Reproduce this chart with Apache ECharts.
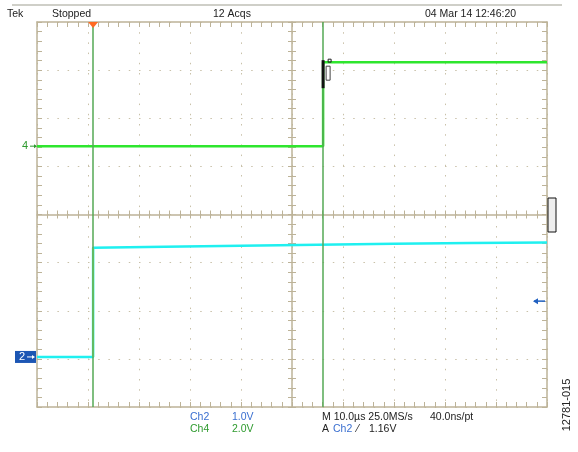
<!DOCTYPE html>
<html>
<head>
<meta charset="utf-8">
<script src="https://cdn.jsdelivr.net/npm/echarts@6.0.0/dist/echarts.min.js"></script>
<style>
html, body { margin: 0; background: #fff; }
#main { width: 578px; height: 452px; }
</style>
</head>
<body>
<div id="main"></div>
<script>
// 时间单位 µs，电压单位 V
const ch4Time = [0, 56.1, 56.1, 100];
const ch4Volt = [0, 0, 3.49, 3.49];
const ch2Time = [0, 11.0, 11.0, 25, 40, 55, 70, 85, 100];
const ch2Volt = [0, 0, 2.27, 2.29, 2.31, 2.33, 2.35, 2.37, 2.38];
const cursorTime = [11.0, 56.1];
const ch2Scale = 1.0;   // V/div
const ch4Scale = 2.0;   // V/div
const ch2Offset = -2.96; // 地线位置 div
const ch4Offset = 1.42;
const triggerLevel = 1.16;
const triggerTime = 11.0;

const tan = '#bdb398';
const dot = '#c9c1a9';

// 电压转为格数
const toDiv = (v, scale, offset) => v / scale + offset;
const ch4Data = ch4Time.map((t, i) => [t, toDiv(ch4Volt[i], ch4Scale, ch4Offset)]);
const ch2Data = ch2Time.map((t, i) => [t, toDiv(ch2Volt[i], ch2Scale, ch2Offset)]);
const ch2Edge = [ch2Data[1], ch2Data[2]];

const mkX = (pos, offset, inside, len, split, line) => ({
    type: 'value', min: 0, max: 100, interval: 10, position: pos, offset: offset,
    axisLine: { show: line, onZero: false, lineStyle: { color: tan, width: 1.5 } },
    axisTick: { show: true, inside: inside, length: len, lineStyle: { color: tan } },
    minorTick: { show: true, splitNumber: 5, length: len, lineStyle: { color: tan } },
    axisLabel: { show: false },
    splitLine: { show: split, lineStyle: { color: dot, width: 1, type: [1.5, 8.7] } }
})
const mkY = (pos, offset, inside, len, split, line) => ({
    type: 'value', min: -4, max: 4, interval: 1, position: pos, offset: offset,
    axisLine: { show: line, onZero: false, lineStyle: { color: tan, width: 1.5 } },
    axisTick: { show: true, inside: inside, length: len, lineStyle: { color: tan } },
    minorTick: { show: true, splitNumber: 5, length: len, lineStyle: { color: tan } },
    axisLabel: { show: false },
    splitLine: { show: split, lineStyle: { color: dot, width: 1, type: [1.5, 8.7] } }
})

const chart = echarts.init(document.getElementById('main'));

const option = {
    animation: false,
    backgroundColor: '#fff',
    grid: { left: 37, top: 22, width: 510, height: 385 },
    xAxis: [
        mkX('bottom', 0, true, 5, true, true),
        mkX('top', 0, true, 5, false, true),
        mkX('bottom', -192.5, true, 4, false, true),
        mkX('bottom', -192.5, false, 4, false, false)
    ],
    yAxis: [
        mkY('left', 0, true, 5, true, true),
        mkY('right', 0, true, 5, false, true),
        mkY('left', -255, true, 4, false, true),
        mkY('left', -255, false, 4, false, false)
    ],
    series: [
        {
            type: 'line', data: [], symbol: 'none', z: 1,
            markLine: {
                silent: true, symbol: 'none', label: { show: false },
                lineStyle: { color: '#55a955', width: 1.5, type: 'solid' },
                data: cursorTime.map(t => ({ xAxis: t }))
            }
        },
        {
            name: 'Ch4', type: 'line', data: ch4Data, symbol: 'none', z: 3,
            lineStyle: { color: '#2ee62e', width: 2.5 }
        },
        {
            name: 'Ch2', type: 'line', data: ch2Data, symbol: 'none', z: 3,
            lineStyle: { color: '#1ff0f0', width: 2.5 }
        },
        {
            type: 'line', data: ch2Edge, symbol: 'none', z: 4,
            lineStyle: { color: '#8af78a', width: 2 }
        }
    ]
};
chart.setOption(option);

const px = (p) => chart.convertToPixel({ xAxisIndex: 0, yAxisIndex: 0 }, p);
const g4 = px([0, ch4Offset]);
const g2 = px([0, ch2Offset]);
const trig = px([triggerTime, 4]);
const lvl = px([100, toDiv(triggerLevel, ch2Scale, ch2Offset)]);
const edge4 = px([ch4Time[1], toDiv(ch4Volt[2], ch4Scale, ch4Offset)]);

const txt = (x, y, s, color, extra) => Object.assign({
    type: 'text', x: x, y: y, z: 50,
    style: { text: s, fill: color || '#222', font: '10.5px "Liberation Sans"', verticalAlign: 'middle' }
}, extra || {});

chart.setOption({
    graphic: [
        { type: 'line', shape: { x1: 12, y1: 5, x2: 562, y2: 5 }, style: { stroke: '#cfcfc8', lineWidth: 2 } },
        txt(7, 14, 'Tek'),
        txt(52, 14, 'Stopped'),
        txt(213, 14, '12 Acqs'),
        txt(425, 14, '04 Mar 14 12:46:20'),
        txt(190, 417, 'Ch2', '#3a6fd0'),
        txt(232, 417, '1.0V', '#3a6fd0'),
        txt(190, 429, 'Ch4', '#2e9a2e'),
        txt(232, 429, '2.0V', '#2e9a2e'),
        txt(322, 417, 'M 10.0µs 25.0MS/s'),
        txt(430, 417, '40.0ns/pt'),
        txt(322, 429, 'A'),
        txt(333, 429, 'Ch2', '#3a6fd0'),
        txt(357, 429, '⁄'),
        txt(369, 429, '1.16V'),
        {
            type: 'text', x: 567, y: 405, rotation: Math.PI / 2, z: 50,
            style: { text: '12781-015', fill: '#222', font: '11px "Liberation Sans"', align: 'center', verticalAlign: 'middle' }
        },
        // 通道地线标记
        txt(g4[0] - 15, g4[1], '4', '#2e9a2e', { style: { text: '4', fill: '#2e9a2e', font: '11px "Liberation Sans"', verticalAlign: 'middle' } }),
        { type: 'line', shape: { x1: g4[0] - 7, y1: g4[1], x2: g4[0] - 1, y2: g4[1] }, style: { stroke: '#2e9a2e', lineWidth: 1 }, z: 50 },
        { type: 'polygon', shape: { points: [[g4[0], g4[1]], [g4[0] - 3, g4[1] - 2], [g4[0] - 3, g4[1] + 2]] }, style: { fill: '#2e9a2e' }, z: 50 },
        { type: 'rect', shape: { x: 15, y: g2[1] - 6, width: 21, height: 12 }, style: { fill: '#1c56b4' }, z: 50 },
        txt(19, g2[1], '2', '#fff', { style: { text: '2', fill: '#fff', font: '11px "Liberation Sans"', verticalAlign: 'middle' } }),
        { type: 'line', shape: { x1: 27, y1: g2[1], x2: 33, y2: g2[1] }, style: { stroke: '#fff', lineWidth: 1 }, z: 51 },
        { type: 'polygon', shape: { points: [[35, g2[1]], [32, g2[1] - 2], [32, g2[1] + 2]] }, style: { fill: '#fff' }, z: 51 },
        // 触发位置与电平
        { type: 'polygon', shape: { points: [[trig[0] - 5, trig[1]], [trig[0] + 5, trig[1]], [trig[0], trig[1] + 6]] }, style: { fill: '#ff6a22' }, z: 50 },
        { type: 'line', shape: { x1: lvl[0] - 13, y1: lvl[1], x2: lvl[0] - 2, y2: lvl[1] }, style: { stroke: '#2060c0', lineWidth: 1.5 }, z: 50 },
        { type: 'polygon', shape: { points: [[lvl[0] - 14, lvl[1]], [lvl[0] - 9, lvl[1] - 3], [lvl[0] - 9, lvl[1] + 3]] }, style: { fill: '#2060c0' }, z: 50 },
        { type: 'rect', shape: { x: 548, y: 198, width: 8, height: 34 }, style: { fill: '#eeeeee', stroke: '#111', lineWidth: 1 }, z: 50 },
        // 光标读数框
        { type: 'rect', shape: { x: edge4[0] - 1.5, y: edge4[1] - 2, width: 3, height: 28 }, style: { fill: '#111' }, z: 50 },
        { type: 'rect', shape: { x: edge4[0] + 3, y: edge4[1] + 4, width: 4, height: 14 }, style: { fill: '#fff', stroke: '#444', lineWidth: 1 }, z: 50 },
        { type: 'rect', shape: { x: edge4[0] + 5, y: edge4[1] - 3, width: 3, height: 3 }, style: { fill: 'none', stroke: '#222', lineWidth: 1 }, z: 50 }
    ]
});
</script>
</body>
</html>
